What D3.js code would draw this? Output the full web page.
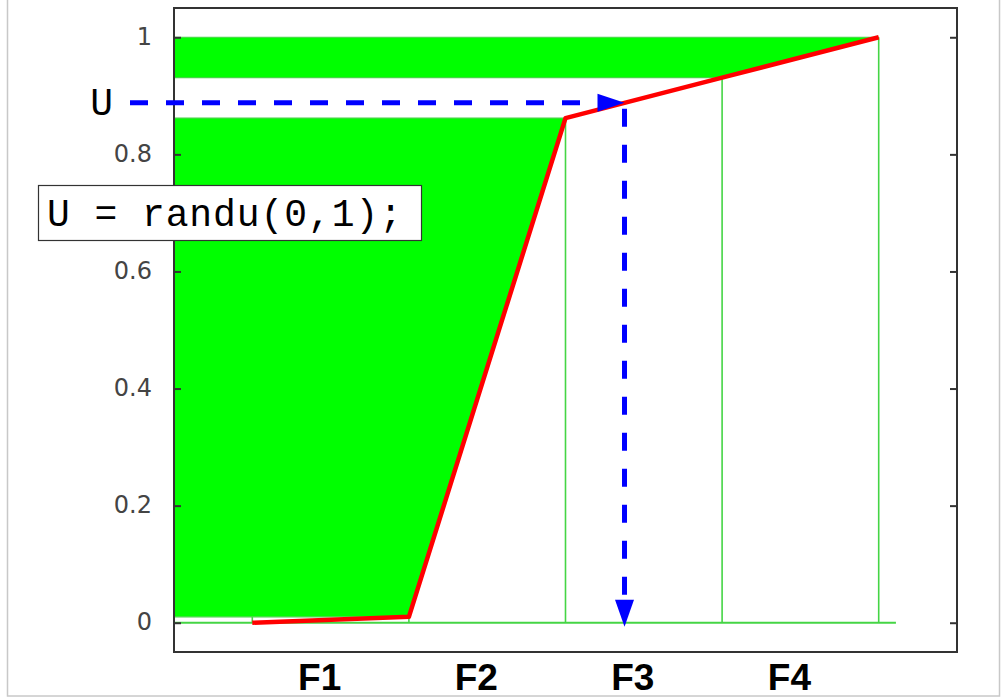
<!DOCTYPE html>
<html>
<head>
<meta charset="utf-8">
<script src="https://cdn.jsdelivr.net/npm/d3@7"></script>
<style>
  html, body { margin: 0; padding: 0; background: #fff; }
  svg { display: block; }
</style>
</head>
<body>
<svg id="chart" width="1002" height="698"></svg>
<script>
// Discrete distribution sampled by inverting its CDF
const categories = ["F1", "F2", "F3", "F4"];
const probabilities = [0.01, 0.852, 0.069, 0.069];
const yTickValues = [0, 0.2, 0.4, 0.6, 0.8, 1];
const yTickLabels = ["0", "0.2", "0.4", "0.6", "0.8", "1"];
const uniformDraw = 0.888;
const codeText = "U = randu(0,1);";
const drawLabel = "U";

// cumulative values at x = 0, 1, 2, 3, 4
const cdf = [0, ...d3.cumsum(probabilities)];

const svg = d3.select("#chart");

const x = d3.scaleLinear().domain([-0.5, 4.5]).range([174, 957]);
const y = d3.scaleLinear().domain([-0.05, 1.05]).range([652, 8]);

const GREEN = "#00ff00";
const GREEN_LINE = "#45d545";
const RED = "#ff0000";
const BLUE = "#0000ff";

// outer frame
svg.append("rect")
  .attr("x", 7.5).attr("y", -2)
  .attr("width", 992).attr("height", 698)
  .attr("fill", "none").attr("stroke", "#c8c8c8").attr("stroke-width", 1.5);

// bands between consecutive CDF levels, extending from the left axis to the CDF
const bands = categories.map((c, i) => ({
  name: c,
  pts: [[-0.5, cdf[i]], [i, cdf[i]], [i + 1, cdf[i + 1]], [-0.5, cdf[i + 1]]],
  filled: i % 2 === 1
}));

const area = d3.line().x(d => x(d[0])).y(d => y(d[1]));

svg.append("g").selectAll("path")
  .data(bands.filter(b => b.filled))
  .join("path")
  .attr("d", b => area(b.pts) + "Z")
  .attr("fill", GREEN)
  .attr("stroke", GREEN_LINE)
  .attr("stroke-width", 1.2);

// zero baseline
svg.append("line")
  .attr("x1", x(-0.5)).attr("x2", x(4.11))
  .attr("y1", y(0)).attr("y2", y(0))
  .attr("stroke", GREEN_LINE).attr("stroke-width", 2);

// stems at the category boundaries
svg.append("g").selectAll("line")
  .data(cdf.map((v, i) => ({ i, v: i === 0 ? cdf[1] : v })))
  .join("line")
  .attr("x1", d => x(d.i)).attr("x2", d => x(d.i))
  .attr("y1", y(0)).attr("y2", d => y(d.v))
  .attr("stroke", GREEN_LINE).attr("stroke-width", 1.6);

// CDF curve
svg.append("path")
  .datum(cdf.map((v, i) => [i, v]))
  .attr("d", area)
  .attr("fill", "none")
  .attr("stroke", RED)
  .attr("stroke-width", 4.5)
  .attr("stroke-linejoin", "round");

// axes box
svg.append("rect")
  .attr("x", x(-0.5)).attr("y", y(1.05))
  .attr("width", x(4.5) - x(-0.5)).attr("height", y(-0.05) - y(1.05))
  .attr("fill", "none").attr("stroke", "#333").attr("stroke-width", 2);

const leftAxis = d3.axisLeft(y).tickValues(yTickValues).tickSize(-7).tickPadding(22)
  .tickFormat((d, i) => yTickLabels[i]);
const rightAxis = d3.axisRight(y).tickValues(yTickValues).tickSize(-7).tickFormat("");

const gl = svg.append("g").attr("transform", `translate(${x(-0.5)},0)`).call(leftAxis);
const gr = svg.append("g").attr("transform", `translate(${x(4.5)},0)`).call(rightAxis);
[gl, gr].forEach(g => {
  g.select(".domain").remove();
  g.selectAll(".tick line").attr("stroke", "#333").attr("stroke-width", 2);
});
gl.selectAll(".tick text")
  .attr("font-family", "DejaVu Sans, sans-serif")
  .attr("font-size", 24)
  .attr("fill", "#444")
  .attr("dy", "0.3em");

// category labels under the axis
svg.append("g").selectAll("text")
  .data(categories)
  .join("text")
  .attr("x", (d, i) => x(i + 0.43))
  .attr("y", 690)
  .attr("text-anchor", "middle")
  .attr("font-family", "Liberation Sans, Arial, sans-serif")
  .attr("font-weight", "bold")
  .attr("font-size", 37)
  .attr("fill", "#000")
  .text(d => d);

// inverse-CDF lookup for the uniform draw
const seg = d3.bisectRight(cdf, uniformDraw) - 1;
const xU = seg + (uniformDraw - cdf[seg]) / (cdf[seg + 1] - cdf[seg]);
const px = x(xU), py = y(uniformDraw);
const headLen = 27, headHalf = 9;

// horizontal dashed arrow from U to the CDF
svg.append("line")
  .attr("x1", x(-0.5) - 44).attr("x2", px - headLen)
  .attr("y1", py).attr("y2", py)
  .attr("stroke", BLUE).attr("stroke-width", 5)
  .attr("stroke-dasharray", "18,18");
svg.append("path")
  .attr("d", `M${px},${py} L${px - headLen},${py - headHalf} L${px - headLen},${py + headHalf} Z`)
  .attr("fill", BLUE);

// vertical dashed arrow down to the selected category
const yEnd = y(0) + 4;
svg.append("line")
  .attr("x1", px).attr("x2", px)
  .attr("y1", py + 6).attr("y2", yEnd - headLen)
  .attr("stroke", BLUE).attr("stroke-width", 5)
  .attr("stroke-dasharray", "18,18");
svg.append("path")
  .attr("d", `M${px},${yEnd} L${px - headHalf - 0.5},${yEnd - headLen} L${px + headHalf + 0.5},${yEnd - headLen} Z`)
  .attr("fill", BLUE);

// U label
svg.append("text")
  .attr("x", 113).attr("y", py + 12)
  .attr("text-anchor", "end")
  .attr("font-family", "Liberation Mono, monospace")
  .attr("font-size", 38)
  .attr("fill", "#000")
  .text(drawLabel);

// code box
svg.append("rect")
  .attr("x", 38.5).attr("y", 185.5)
  .attr("width", 383).attr("height", 55)
  .attr("fill", "#fff").attr("stroke", "#333").attr("stroke-width", 1.2);
svg.append("text")
  .attr("x", 47).attr("y", 226)
  .attr("font-family", "Liberation Mono, monospace")
  .attr("font-size", 38)
  .attr("fill", "#000")
  .attr("textLength", 355)
  .text(codeText);
</script>
</body>
</html>
